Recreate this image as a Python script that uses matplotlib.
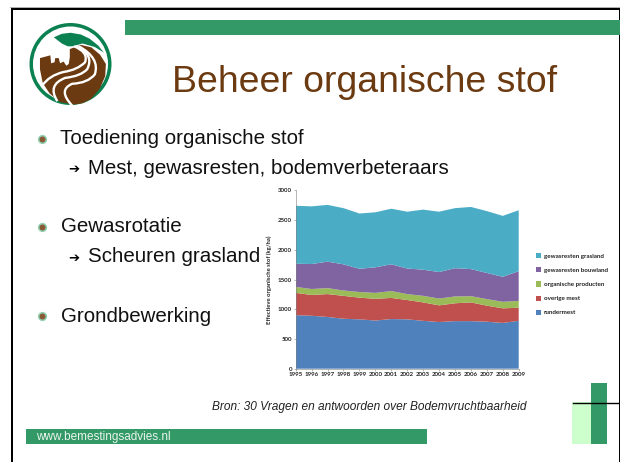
import numpy as np
import matplotlib
matplotlib.use("Agg")
import matplotlib.pyplot as plt
from matplotlib.patches import Circle, Rectangle, PathPatch, Polygon
from matplotlib.path import Path

years = list(range(1995, 2010))
rundermest = [900, 890, 870, 840, 830, 810, 835, 830, 805, 785, 800, 800, 790, 770, 805]
overige_mest = [375, 350, 385, 385, 365, 365, 355, 325, 310, 280, 300, 315, 270, 245, 220]
organische_producten = [100, 100, 100, 90, 95, 100, 115, 100, 110, 115, 115, 105, 110, 110, 115]
gewasresten_bouwland = [390, 420, 445, 440, 390, 430, 450, 430, 440, 445, 475, 455, 440, 420, 500]
gewasresten_grasland = [975, 970, 955, 945, 930, 925, 935, 955, 1010, 1015, 1010, 1045, 1040, 1025, 1025]
series_labels = ["rundermest", "overige mest", "organische producten",
                 "gewasresten bouwland", "gewasresten grasland"]
series_colors = ["#4F81BD", "#C0504D", "#9BBB59", "#8064A2", "#4BACC6"]
y_ticks = [0, 500, 1000, 1500, 2000, 2500, 3000]
y_label = "Effectieve organische stof (kg/ha)"
title = "Beheer organische stof"
source = "Bron: 30 Vragen en antwoorden over Bodemvruchtbaarheid"
footer = "www.bemestingsadvies.nl"

W, H = 620, 462
GREEN = "#339966"
BROWN = "#6B3A10"
LOGO_GREEN = "#0B8050"
fig = plt.figure(figsize=(W / 100, H / 100), dpi=100, facecolor="white")

bg = fig.add_axes([0, 0, 1, 1])
bg.set_xlim(0, W)
bg.set_ylim(H, 0)
bg.axis("off")

# frame
bg.add_patch(Rectangle((9.5, 7), W, 1.2, color="#b0b0b0", lw=0))
bg.add_patch(Rectangle((10.5, 8.2), W, 2, color="black", lw=0))
bg.add_patch(Rectangle((10.5, 8.2), 2, H, color="black", lw=0))
bg.add_patch(Rectangle((618.5, 8.2), 1.5, H, color="black", lw=0))

# bars
bg.add_patch(Rectangle((125, 20), 495, 15, color=GREEN, lw=0))
bg.add_patch(Rectangle((26, 429), 401, 15, color=GREEN, lw=0))
bg.add_patch(Rectangle((572, 402), 19, 42, color="#CCFFCC", lw=0))
bg.add_patch(Rectangle((591, 383), 16, 61, color=GREEN, lw=0))
bg.plot([573, 619], [402.5, 402.5], color="black", lw=1)


# logo (sketched in a local frame centred on the ring)
def lp(pts):
    return [(70.5 + (a - 130) * 0.347, 64 + (b - 135) * 0.347) for a, b in pts]


bg.add_patch(Circle((70.5, 64), 41, fc=LOGO_GREEN, ec="none"))
bg.add_patch(Circle((70.5, 64), 37.5, fc="white", ec="none"))
dome_pts = [(82, 58), (105, 48), (130, 45), (160, 50), (185, 62), (210, 82), (226, 102),
            (200, 86), (165, 76), (135, 84), (122, 84), (105, 76)]
bg.add_patch(Polygon(lp(dome_pts), fc=LOGO_GREEN, ec="none"))
brown_pts = [(128, 92), (160, 80), (190, 87), (215, 108), (232, 135), (230, 170), (215, 205),
             (190, 235), (165, 248), (140, 252), (100, 245), (70, 220), (50, 190), (42, 150),
             (42, 118), (72, 110), (74, 133), (84, 130), (86, 118), (96, 118), (100, 133),
             (110, 128), (118, 140), (125, 135), (128, 115)]
bg.add_patch(Polygon(lp(brown_pts), fc=BROWN, ec="none"))
stripes = [
    [(140, 84), (182, 100), (172, 130), (150, 152), (110, 158), (68, 168), (48, 198)],
    [(146, 84), (200, 108), (178, 150), (160, 170), (115, 175), (62, 195), (92, 242)],
    [(154, 84), (216, 118), (200, 165), (180, 190), (135, 192), (92, 210), (135, 255)],
]
for verts, lw in zip(stripes, (1.7, 1.7, 1.7)):
    codes = [Path.MOVETO] + [Path.CURVE3] * (len(verts) - 1)
    bg.add_patch(PathPatch(Path(lp(verts), codes), fc="none", ec="white", lw=lw, capstyle="butt"))

# slide text
sans = "Liberation Sans"
bg.text(172, 82, title, fontsize=26.9, color=BROWN, family=sans, va="center", ha="left")
for y, s in [(139, "Toediening organische stof"), (227, "Gewasrotatie"), (316, "Grondbewerking")]:
    bg.add_patch(Circle((42.5, y + 0.5), 4.6, fc="#8FD0B0", ec="none"))
    bg.add_patch(Circle((42.5, y + 0.5), 3, fc="#8A5A38", ec="none"))
    bg.text(60.5, y, s, fontsize=14.8, color="#111111", family=sans, va="center", ha="left")
for y, s in [(168, "Mest, gewasresten, bodemverbeteraars"), (257, "Scheuren grasland")]:
    bg.text(68.5, y + 1.5, "\u2794", fontsize=9.5, color="black", family="DejaVu Sans", va="center", ha="left")
    bg.text(87.5, y, s, fontsize=14.8, color="#111111", family=sans, va="center", ha="left")
bg.text(212, 407, source, fontsize=8.6, style="italic", color="#222222", family=sans, va="center", ha="left")
bg.text(36, 437, footer, fontsize=8.5, color="#EAF5EF", family=sans, va="center", ha="left")

# chart
x0, x1, ytop, ybot = 295.7, 518.7, 190.3, 368.7
ax = fig.add_axes([x0 / W, 1 - ybot / H, (x1 - x0) / W, (ybot - ytop) / H])
ax.patch.set_alpha(0)
ax.stackplot(years, rundermest, overige_mest, organische_producten,
             gewasresten_bouwland, gewasresten_grasland,
             labels=series_labels, colors=series_colors, lw=0)
ax.set_xlim(years[0], years[-1])
ax.set_ylim(0, 3000)
ax.set_xticks(years)
ax.set_xticklabels([str(v) for v in years])
ax.set_yticks(y_ticks)
chart_font = "Lato"
ax.tick_params(length=1.5, width=0.4, color="#808080", labelsize=4.4, pad=1.2, labelcolor="#222222")
for lab in ax.get_xticklabels() + ax.get_yticklabels():
    lab.set_family(chart_font)
    lab.set_weight("bold")
for side in ("top", "right"):
    ax.spines[side].set_visible(False)
for side in ("left", "bottom"):
    ax.spines[side].set_linewidth(0.4)
    ax.spines[side].set_color("#808080")
ax.set_ylabel(y_label, fontsize=4.2, family=chart_font, weight="bold", labelpad=4.5, color="#222222")
h, l = ax.get_legend_handles_labels()
leg = fig.legend(h[::-1], l[::-1], loc="center left", bbox_to_anchor=(536 / W, 1 - 284.2 / H),
                 frameon=False, handlelength=0.85, handleheight=0.9, handletextpad=0.45,
                 labelspacing=1.35, borderpad=0, borderaxespad=0,
                 prop={"family": chart_font, "weight": "bold", "size": 4.5})
for t in leg.get_texts():
    t.set_color("#222222")

fig.savefig("out.png", dpi=100)
